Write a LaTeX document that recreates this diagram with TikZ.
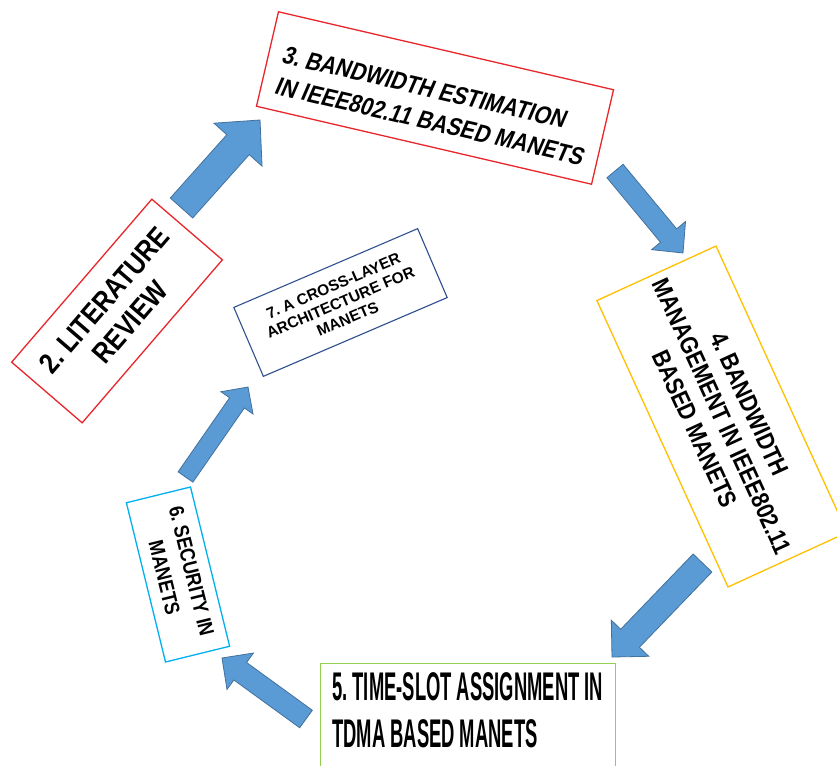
\documentclass[tikz,border=0pt]{standalone}
\usepackage{fontspec}
\usetikzlibrary{calc}
\newfontfamily\boxfont[FakeStretch=0.85]{Liberation Sans}
\newfontfamily\slantfont[FakeStretch=0.85,FakeSlant=0.18]{Liberation Sans}
\newfontfamily\narrowfont[FakeStretch=0.46]{Liberation Sans}
\newfontfamily\plainfont{Liberation Sans}
\frenchspacing
\definecolor{boxred}{HTML}{E8262C}
\definecolor{boxgold}{HTML}{FFC000}
\definecolor{boxgreen}{HTML}{92D050}
\definecolor{boxcyan}{HTML}{00B0F0}
\definecolor{boxnavy}{HTML}{2F4F8F}
\definecolor{arrowfill}{HTML}{5B9BD5}
\definecolor{arrowedge}{HTML}{41719C}

\tikzset{
  stagebox/.style={draw=#1, line width=1.3pt, fill=white, inner sep=0pt,
    align=center, text=black},
  blockarrow/.style={fill=arrowfill, draw=arrowedge, line width=0.8pt,
    line join=miter},
}

% block arrow from a tail point to a tip point:
% #3 shaft width, #4 head width, #5 head length
\newcommand\blockarrow[5]{%
  \path[blockarrow] let \p1=(#1), \p2=(#2),
      \n1={atan2(\y2-\y1,\x2-\x1)}, \n2={veclen(\x2-\x1,\y2-\y1)} in
    ([shift={(\p1)},rotate=\n1]0,{#3/2})
    -- ([shift={(\p1)},rotate=\n1]{\n2-#5},{#3/2})
    -- ([shift={(\p1)},rotate=\n1]{\n2-#5},{#4/2})
    -- (\p2)
    -- ([shift={(\p1)},rotate=\n1]{\n2-#5},{-#4/2})
    -- ([shift={(\p1)},rotate=\n1]{\n2-#5},{-#3/2})
    -- ([shift={(\p1)},rotate=\n1]0,{-#3/2})
    -- cycle;
}

\begin{document}
\begin{tikzpicture}[x=1pt,y=1pt]
\useasboundingbox (0,0) rectangle (837,-765);
\clip (0,0) rectangle (837,-765);
\fill[white] (0,0) rectangle (837,-765);

% stage 2
\node[stagebox=boxred, rotate=49.3, minimum width=215pt, minimum height=93pt,
  font=\boxfont\bfseries\fontsize{29}{34}\selectfont] (s2) at (117,-311)
  {2. LITERATURE\\REVIEW};

% stage 3
\node[stagebox=boxred, rotate=-13.1, minimum width=344pt, minimum height=97pt]
  (s3) at (435,-98) {};
\node[rotate=-13.1, anchor=west, inner sep=0pt, align=left,
  font=\slantfont\bfseries\fontsize{25}{32}\selectfont] (s3text)
  at ($(s3.west)+(-13.1:14)+(-103.1:8)$)
  {3. BANDWIDTH ESTIMATION\\IN IEEE802.11 BASED MANETS};

% stage 4
\node[stagebox=boxgold, rotate=-65.4, minimum width=315pt, minimum height=131pt,
  font=\boxfont\bfseries\fontsize{25}{30}\selectfont] (s4) at (722,-416.5)
  {4. BANDWIDTH\\MANAGEMENT IN IEEE802.11\\BASED MANETS};

% stage 5
\node[stagebox=boxgreen, minimum width=295pt, minimum height=140pt,
  anchor=north west] (s5) at (320,-663) {};
\node[anchor=north west, inner sep=0pt, align=left,
  font=\narrowfont\bfseries\fontsize{40}{47}\selectfont] (s5text) at (332,-672)
  {5. TIME-SLOT ASSIGNMENT IN\\TDMA BASED MANETS};

% stage 6
\node[stagebox=boxcyan, rotate=-76.2, minimum width=164pt, minimum height=66pt,
  font=\boxfont\bfseries\fontsize{21}{28}\selectfont] (s6) at (178,-574.5)
  {6. SECURITY IN\\MANETS};

% stage 7
\node[stagebox=boxnavy, line width=1.1pt, rotate=23.2, minimum width=200pt,
  minimum height=75pt, font=\plainfont\bfseries\fontsize{15.5}{18}\selectfont]
  (s7) at (340.5,-302.5) {7. A CROSS-LAYER\\ARCHITECTURE FOR\\MANETS};

% arrow end points
\coordinate (a23t) at (181.5,-208); \coordinate (a23h) at (260,-120);
\coordinate (a34t) at (615,-171);   \coordinate (a34h) at (683,-253);
\coordinate (a45t) at (702.5,-563); \coordinate (a45h) at (612,-657);
\coordinate (a56t) at (306,-719);   \coordinate (a56h) at (222,-658);
\coordinate (a67t) at (185.5,-477); \coordinate (a67h) at (248,-387);

\blockarrow{a23t}{a23h}{30}{64.5}{33}
\blockarrow{a34t}{a34h}{21}{44}{22.6}
\blockarrow{a45t}{a45h}{26}{52}{26}
\blockarrow{a56t}{a56h}{21.6}{45}{22.5}
\blockarrow{a67t}{a67h}{18}{39}{19.3}
\end{tikzpicture}
\end{document}
